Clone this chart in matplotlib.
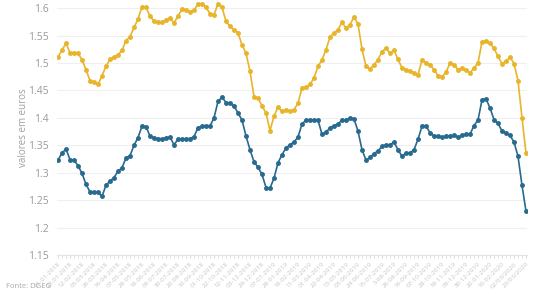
import matplotlib
matplotlib.use("Agg")
import matplotlib.pyplot as plt

plt.rcParams['font.family'] = ['Open Sans', 'DejaVu Sans']

gasolina = [1.511, 1.524, 1.536, 1.519, 1.519, 1.518, 1.506, 1.488, 1.468, 1.465, 1.461, 1.477,
            1.494, 1.507, 1.511, 1.515, 1.523, 1.541, 1.548, 1.565, 1.580, 1.603, 1.602, 1.585,
            1.577, 1.574, 1.574, 1.579, 1.582, 1.573, 1.586, 1.598, 1.597, 1.594, 1.596, 1.608,
            1.607, 1.602, 1.590, 1.588, 1.608, 1.602, 1.576, 1.567, 1.561, 1.555, 1.533, 1.518,
            1.485, 1.439, 1.436, 1.422, 1.409, 1.377, 1.403, 1.420, 1.412, 1.415, 1.412, 1.415,
            1.427, 1.455, 1.456, 1.461, 1.473, 1.494, 1.506, 1.524, 1.548, 1.555, 1.561, 1.574,
            1.564, 1.570, 1.584, 1.571, 1.525, 1.494, 1.489, 1.497, 1.506,
            1.521, 1.527, 1.518, 1.523, 1.507, 1.491, 1.488, 1.485, 1.482, 1.479, 1.505, 1.501,
            1.497, 1.488, 1.477, 1.475, 1.483, 1.500, 1.497, 1.488, 1.491, 1.487, 1.482, 1.491,
            1.500, 1.539, 1.541, 1.536, 1.527, 1.512, 1.499, 1.503, 1.511, 1.499, 1.468, 1.400,
            1.336]

gasoleo = [1.323, 1.336, 1.343, 1.324, 1.323, 1.313, 1.299, 1.279, 1.265, 1.265, 1.264, 1.257,
           1.277, 1.285, 1.291, 1.303, 1.309, 1.327, 1.331, 1.350, 1.364, 1.385, 1.384, 1.367,
           1.364, 1.362, 1.361, 1.364, 1.365, 1.351, 1.361, 1.362, 1.362, 1.362, 1.366, 1.382,
           1.385, 1.386, 1.385, 1.400, 1.430, 1.438, 1.428, 1.427, 1.422, 1.409, 1.396, 1.367,
           1.342, 1.320, 1.310, 1.297, 1.273, 1.272, 1.290, 1.318, 1.333,
           1.345, 1.351, 1.356, 1.365, 1.389, 1.396, 1.396, 1.396, 1.396, 1.370, 1.374, 1.382,
           1.386, 1.389, 1.396, 1.396, 1.400, 1.398, 1.376, 1.342,
           1.323, 1.328, 1.335, 1.340,
           1.348, 1.351, 1.351, 1.356, 1.342, 1.330, 1.336, 1.336, 1.342, 1.361, 1.385, 1.385,
           1.373, 1.367, 1.367, 1.365, 1.367, 1.367, 1.368, 1.365, 1.368, 1.370, 1.370, 1.386,
           1.396, 1.433, 1.435, 1.418, 1.397, 1.390, 1.376, 1.373, 1.368, 1.356, 1.330, 1.277,
           1.230]

tick_labels = ["01-01-2018", "22-01-2018", "12-02-2018", "05-03-2018", "26-03-2018", "16-04-2018",
               "07-05-2018", "28-05-2018", "18-06-2018", "09-07-2018", "30-07-2018", "20-08-2018",
               "10-09-2018", "01-10-2018", "22-10-2018", "12-11-2018", "03-12-2018", "24-12-2018",
               "07-01-2019", "28-01-2019", "18-02-2019", "11-03-2019", "01-04-2019", "22-04-2019",
               "13-05-2019", "03-06-2019", "24-06-2019", "15-07-2019", "5-08-2019", "26-08-2019",
               "16-09-2019", "07-10-2019", "28-10-2019", "18-11-2019", "09-12-2019", "30-12-2019",
               "20-01-2020", "10-02-2020", "02/03/2020", "23/03/2020"]

y_ticks = [1.15, 1.2, 1.25, 1.3, 1.35, 1.4, 1.45, 1.5, 1.55, 1.6]

fig = plt.figure(figsize=(5.6, 2.93), dpi=100)
ax = fig.add_axes([57/560, 1 - 255/293, 470/560, 255/293])

x = list(range(len(gasolina)))
ax.plot(x, gasolina, color="#E8B42A", lw=1.2, marker="o", ms=2.5, label="Gasolina 95")
ax.plot(x, gasoleo, color="#27698F", lw=1.2, marker="o", ms=2.5, label="Gasóleo")

ax.set_xlim(-0.25, len(gasolina) - 0.75)
ax.set_ylim(1.15, 1.615)
ax.set_yticks(y_ticks)
ax.set_yticklabels([f"{v:g}" for v in y_ticks])
ax.yaxis.grid(True, color="#EFEFEF", lw=0.8)
ax.set_axisbelow(True)

ax.set_xticks(x, minor=True)
ax.set_xticks(x[::3])
ax.set_xticklabels(tick_labels, rotation=45, ha="right", rotation_mode="anchor",
                   fontsize=4.6, color="#C4C4C4")
ax.tick_params(axis="x", which="both", length=2.5, color="#DDDDDD", pad=2)
ax.tick_params(axis="y", length=0, labelsize=7.5, labelcolor="#9A9A9A", pad=6)

for s in ["top", "right", "left"]:
    ax.spines[s].set_visible(False)
ax.spines["bottom"].set_color("#E3E3E3")
ax.spines["bottom"].set_linewidth(0.8)

ax.set_ylabel("valores em euros", fontsize=7, color="#A0A0A0", labelpad=-1)

fig.text(0.01, 0.035, "Fonte: DGEG", fontsize=5.5, color="#AAAAAA", va="top")

fig.savefig("out.png", dpi=100)
